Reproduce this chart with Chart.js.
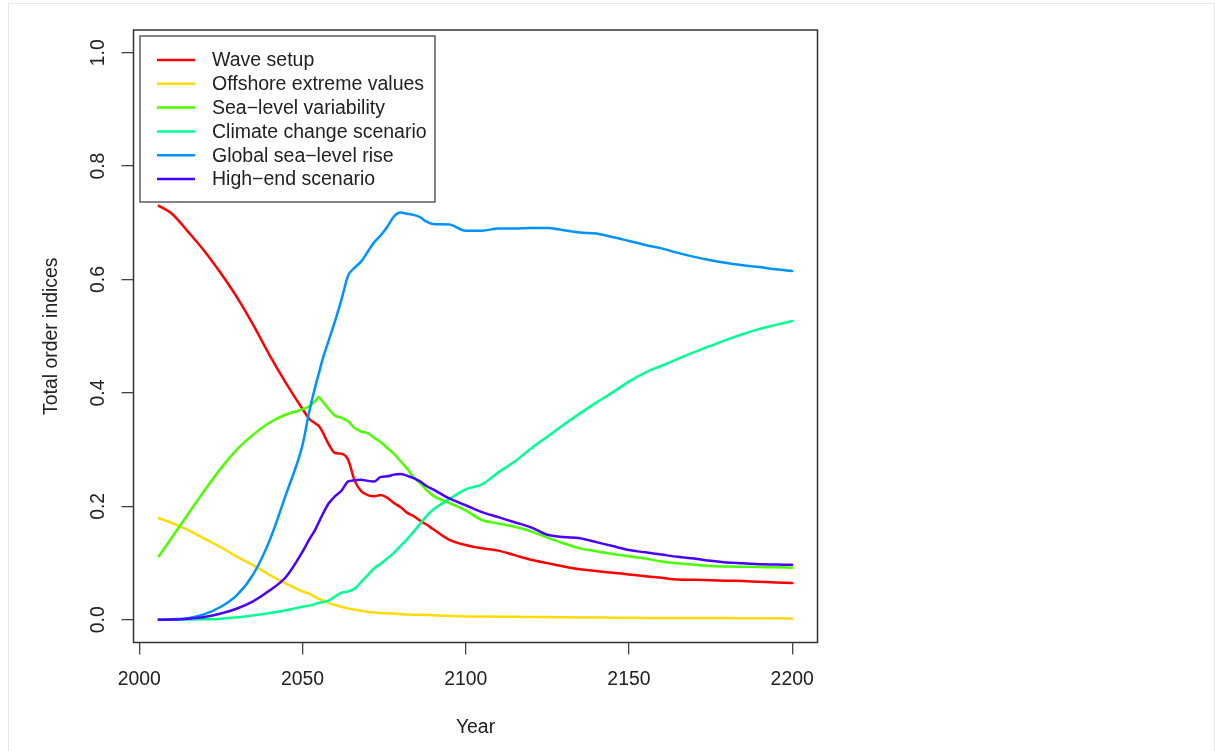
<!DOCTYPE html>
<html>
<head>
<meta charset="utf-8">
<script src="https://cdn.jsdelivr.net/npm/chart.js@4.4.1/dist/chart.umd.min.js"></script>
<style>
  html, body { margin: 0; padding: 0; background: #fff; overflow: hidden; }
  #frame { position: absolute; left: 8px; top: 3px; width: 1205px; height: 800px;
           border-left: 1px solid #e6e6e6; border-top: 1px solid #e6e6e6; border-right: 1px solid #e6e6e6; }
  #wrap { position: absolute; left: 0; top: 0; width: 1215px; height: 751px; }
</style>
</head>
<body>
<div id="frame"></div>
<div id="wrap"><canvas id="indicesChart" width="1215" height="751"></canvas></div>
<script>
const years = [2006, 2010, 2015, 2020, 2025, 2030, 2035, 2040, 2045, 2050,
  2052, 2054, 2055, 2056, 2058, 2060, 2062, 2064, 2066, 2068,
  2070, 2072, 2074, 2076, 2078, 2080, 2082, 2084, 2086, 2088,
  2090, 2095, 2100, 2105, 2110, 2115, 2120, 2125, 2130, 2135,
  2140, 2145, 2150, 2155, 2160, 2165, 2170, 2175, 2180, 2185,
  2190, 2195, 2200];

const waveSetup = [0.730, 0.716, 0.684, 0.650, 0.611, 0.568, 0.519, 0.466, 0.417, 0.372,
  0.355, 0.346, 0.342, 0.333, 0.310, 0.294, 0.293, 0.282, 0.245, 0.227,
  0.220, 0.218, 0.220, 0.215, 0.206, 0.199, 0.189, 0.183, 0.175, 0.168,
  0.160, 0.141, 0.132, 0.126, 0.122, 0.114, 0.106, 0.100, 0.094, 0.089,
  0.086, 0.083, 0.080, 0.077, 0.074, 0.071, 0.0705, 0.0697, 0.069, 0.0684,
  0.067, 0.066, 0.065];

const offshoreExtremes = [0.179, 0.171, 0.158, 0.143, 0.128, 0.111, 0.096, 0.079, 0.064, 0.050,
  0.046, 0.040, 0.037, 0.035, 0.030, 0.026, 0.023, 0.020, 0.018, 0.016,
  0.014, 0.013, 0.012, 0.0115, 0.011, 0.010, 0.0095, 0.009, 0.009, 0.0085,
  0.008, 0.007, 0.006, 0.0058, 0.0055, 0.0053, 0.005, 0.0048, 0.0045, 0.0043,
  0.004, 0.0038, 0.0035, 0.0034, 0.0032, 0.0031, 0.003, 0.003, 0.003, 0.0029,
  0.0028, 0.0027, 0.0025];

const seaLevelVariability = [0.112, 0.145, 0.187, 0.228, 0.267, 0.301, 0.327, 0.348, 0.362, 0.371,
  0.376, 0.386, 0.393, 0.386, 0.372, 0.360, 0.356, 0.350, 0.338, 0.332,
  0.329, 0.321, 0.313, 0.303, 0.293, 0.280, 0.267, 0.252, 0.241, 0.229,
  0.219, 0.206, 0.193, 0.176, 0.170, 0.164, 0.156, 0.145, 0.135, 0.126,
  0.121, 0.116, 0.112, 0.108, 0.103, 0.0997, 0.097, 0.095, 0.094, 0.0935,
  0.093, 0.0926, 0.092];

const climateScenario = [0, 0.0002, 0.0005, 0.001, 0.002, 0.0044, 0.008, 0.012, 0.017, 0.023,
  0.025, 0.028, 0.030, 0.031, 0.034, 0.041, 0.048, 0.050, 0.055, 0.067,
  0.079, 0.091, 0.099, 0.108, 0.118, 0.130, 0.142, 0.155, 0.169, 0.183,
  0.194, 0.213, 0.230, 0.239, 0.260, 0.279, 0.302, 0.323, 0.344, 0.364,
  0.383, 0.401, 0.420, 0.436, 0.448, 0.460, 0.472, 0.483, 0.494, 0.504,
  0.513, 0.520, 0.527];

const globalSeaLevel = [0, 0.001, 0.003, 0.010, 0.023, 0.044, 0.081, 0.141, 0.222, 0.308,
  0.365, 0.413, 0.434, 0.456, 0.492, 0.527, 0.566, 0.607, 0.621, 0.632,
  0.649, 0.666, 0.678, 0.693, 0.711, 0.718, 0.716, 0.714, 0.710, 0.702,
  0.698, 0.697, 0.686, 0.686, 0.690, 0.690, 0.691, 0.691, 0.687, 0.683,
  0.681, 0.675, 0.668, 0.661, 0.655, 0.647, 0.640, 0.634, 0.629, 0.625,
  0.622, 0.618, 0.615];

const highEnd = [0, 0.0005, 0.002, 0.005, 0.011, 0.020, 0.033, 0.052, 0.076, 0.120,
  0.141, 0.160, 0.172, 0.184, 0.205, 0.218, 0.228, 0.244, 0.246, 0.247,
  0.245, 0.244, 0.252, 0.253, 0.256, 0.257, 0.254, 0.250, 0.244, 0.236,
  0.230, 0.214, 0.202, 0.190, 0.181, 0.172, 0.163, 0.150, 0.146, 0.144,
  0.137, 0.130, 0.123, 0.119, 0.115, 0.111, 0.108, 0.104, 0.101, 0.0997,
  0.098, 0.0975, 0.097];

const seriesNames = ['Wave setup', 'Offshore extreme values', 'Sea\u2212level variability',
  'Climate change scenario', 'Global sea\u2212level rise', 'High\u2212end scenario'];
const seriesColors = ['#FF0000', '#FFDB00', '#49FF00', '#00FF92', '#0092FF', '#4900FF'];
const seriesValues = [waveSetup, offshoreExtremes, seaLevelVariability, climateScenario, globalSeaLevel, highEnd];

const xTicks = [2000, 2050, 2100, 2150, 2200];
const yTicks = [0, 0.2, 0.4, 0.6, 0.8, 1.0];

const FONT = '"Liberation Sans", Arial, Helvetica, sans-serif';

// axes labels, box and legend drawn R-style
const rStyle = {
  id: 'rStyle',
  afterDraw(chart) {
    const { ctx, chartArea: a, scales: { x, y } } = chart;
    ctx.save();
    ctx.strokeStyle = '#333';
    ctx.lineWidth = 1.5;
    ctx.strokeRect(a.left, a.top, a.right - a.left, a.bottom - a.top);

    ctx.fillStyle = '#222';
    ctx.font = '19.4px ' + FONT;
    ctx.textAlign = 'center';
    ctx.textBaseline = 'middle';
    xTicks.forEach(v => ctx.fillText(String(v), x.getPixelForValue(v), a.bottom + 37));
    yTicks.forEach(v => {
      ctx.save();
      ctx.translate(a.left - 34.5, y.getPixelForValue(v));
      ctx.rotate(-Math.PI / 2);
      ctx.fillText(v.toFixed(1), 0, 0);
      ctx.restore();
    });
    ctx.fillText('Year', (a.left + a.right) / 2, a.bottom + 85);
    ctx.save();
    ctx.translate(a.left - 81.5, (a.top + a.bottom) / 2);
    ctx.rotate(-Math.PI / 2);
    ctx.fillText('Total order indices', 0, 0);
    ctx.restore();

    // legend
    const lx = a.left + 6.5, ly = a.top + 6;
    ctx.fillStyle = '#fff';
    ctx.fillRect(lx, ly, 295, 166);
    ctx.strokeStyle = '#444';
    ctx.lineWidth = 1.3;
    ctx.strokeRect(lx, ly, 295, 166);
    ctx.textAlign = 'left';
    ctx.font = '19.5px ' + FONT;
    chart.data.datasets.forEach((ds, i) => {
      const ry = ly + 24 + i * 23.8;
      ctx.strokeStyle = ds.borderColor;
      ctx.lineWidth = 2.5;
      ctx.beginPath();
      ctx.moveTo(lx + 17, ry);
      ctx.lineTo(lx + 55, ry);
      ctx.stroke();
      ctx.fillStyle = '#222';
      ctx.fillText(ds.label, lx + 72, ry + 1);
    });
    ctx.restore();
  }
};

const ctx = document.getElementById('indicesChart').getContext('2d');
const indicesChart = new Chart(ctx, {
  type: 'line',
  data: {
    datasets: seriesValues.map((vals, i) => ({
      label: seriesNames[i],
      data: years.map((yr, j) => ({ x: yr, y: vals[j] })),
      borderColor: seriesColors[i],
      borderWidth: 2.5,
      borderCapStyle: 'round',
      borderJoinStyle: 'round',
      cubicInterpolationMode: 'monotone',
      pointRadius: 0,
      fill: false,
      order: seriesValues.length - i
    }))
  },
  options: {
    responsive: false,
    animation: false,
    devicePixelRatio: 1,
    layout: { padding: { top: 30, right: 397.5, left: 0, bottom: 0 } },
    plugins: { legend: { display: false }, tooltip: { enabled: false } },
    scales: {
      x: {
        type: 'linear',
        min: 1998.24,
        max: 2207.76,
        afterBuildTicks: s => { s.ticks = xTicks.map(v => ({ value: v })); },
        afterFit: s => { s.height = 108.5; },
        ticks: { display: false },
        border: { display: false },
        grid: { drawOnChartArea: false, tickLength: 12, color: '#444', lineWidth: 1.3 }
      },
      y: {
        type: 'linear',
        min: -0.04,
        max: 1.04,
        afterBuildTicks: s => { s.ticks = yTicks.map(v => ({ value: v })); },
        afterFit: s => { s.width = 133.5; },
        ticks: { display: false },
        border: { display: false },
        grid: { drawOnChartArea: false, tickLength: 12, color: '#444', lineWidth: 1.3 }
      }
    }
  },
  plugins: [rStyle]
});
</script>
</body>
</html>
